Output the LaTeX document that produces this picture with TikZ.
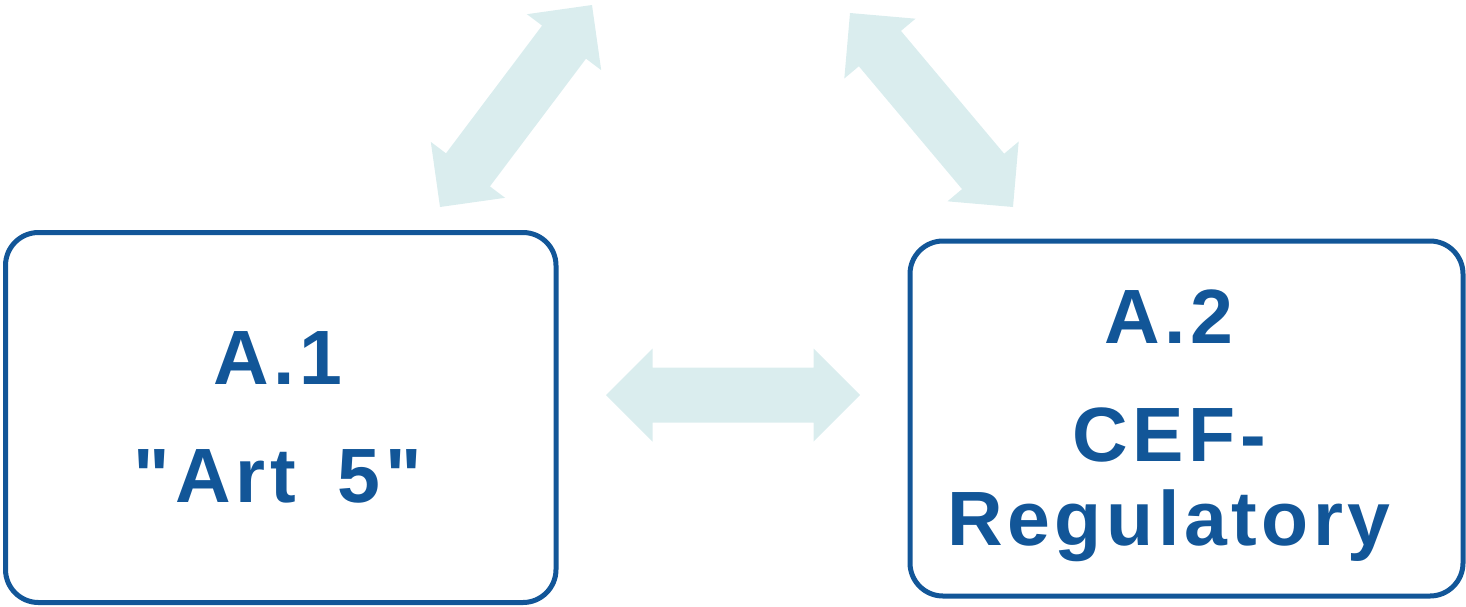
\documentclass[tikz,border=0pt]{standalone}
\usepackage{fontspec}
\newfontfamily\boxfont[LetterSpace=6]{Liberation Sans}
\usetikzlibrary{calc}
\definecolor{boxblue}{HTML}{125698}
\definecolor{arrowfill}{HTML}{DAEDEE}

% fat double arrow between two tip coordinates
\newcommand\fatarrow[2]{%
	\fill[arrowfill] (#1)
		-- ($(#1)!23.25pt!(#2)!23.25pt!90:(#2)$)
		-- ($(#1)!23.25pt!(#2)!13.75pt!90:(#2)$)
		-- ($(#2)!23.25pt!(#1)!13.75pt!-90:(#1)$)
		-- ($(#2)!23.25pt!(#1)!23.25pt!-90:(#1)$)
		-- (#2)
		-- ($(#2)!23.25pt!(#1)!23.25pt!90:(#1)$)
		-- ($(#2)!23.25pt!(#1)!13.75pt!90:(#1)$)
		-- ($(#1)!23.25pt!(#2)!13.75pt!-90:(#2)$)
		-- ($(#1)!23.25pt!(#2)!23.25pt!-90:(#2)$)
		-- cycle;}

\begin{document}
\begin{tikzpicture}[
				x=0.5pt,y=-0.5pt,
				box/.style={draw=boxblue,line width=2.5pt,rectangle,rounded corners=16.5pt,inner sep=0pt},
				boxtext/.style={text=boxblue,align=center,font=\boxfont\bfseries\fontsize{38.5}{42}\selectfont}
				]
				\useasboundingbox (0,0) rectangle (1466,606);
				
				% Riquadri
				\node[box,minimum width=275.25pt,minimum height=185pt] (art) at (280.75,417.5) {};
				\node[box,minimum width=276.5pt,minimum height=177.5pt] (cef) at (1186.5,418.5) {};
				
				% Testi
				\node[boxtext,xshift=-1.4pt] (arttext) at (art.center) {A.1\\[17pt]"\kern2.5pt Art \hspace{8pt}5\kern2.5pt"};
				\node[boxtext,xshift=-8.75pt,yshift=-3.5pt] (ceftext) at (cef.center) {A.2\\[17pt]CEF-\\Regulatory};
				
				% Punte delle frecce
				\coordinate (hleft) at (606,395);
				\coordinate (hright) at (860,395);
				\coordinate (lbot) at (440,207);
				\coordinate (ltop) at (592,5);
				\coordinate (rtop) at (850,13);
				\coordinate (rbot) at (1013,207);
				
				% Frecce
				\fatarrow{hleft}{hright}
				\fatarrow{lbot}{ltop}
				\fatarrow{rtop}{rbot}
				
\end{tikzpicture}
\end{document}
